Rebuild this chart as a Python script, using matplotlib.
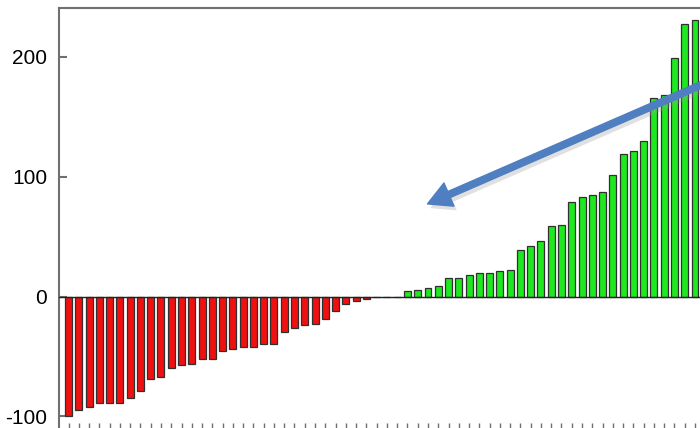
import matplotlib
matplotlib.use("Agg")
import matplotlib.pyplot as plt
from matplotlib.patches import FancyArrowPatch
import matplotlib.patheffects as pe
import numpy as np

# sorted change per item, left to right
values = [-100, -95, -92, -88.5, -88.5, -88.5, -85, -79, -68.5, -67,
          -59.5, -57.5, -56, -52.5, -52.3, -45.6, -44, -42.3, -41.7, -40,
          -39.7, -29.5, -26, -24, -23, -19, -12.4, -6.5, -3.5, -2.3,
          -0.5, 0, 0, 4.3, 5.4, 7.4, 8.5, 15.2, 15.7, 17.7,
          19.4, 19.7, 21.3, 21.9, 38.7, 42, 46.4, 59, 59.3, 79,
          83.3, 84.4, 86.9, 101, 118.6, 121.6, 129.5, 165.5, 168.5, 198.6,
          227, 230.5]
yticks = [-100, 0, 100, 200]
ytick_labels = ["-100", "0", "100", "200"]

# arrow from the upper right down into the middle of the chart
arrow_start = (64.5, 183.6)
arrow_end = (35.7, 76.3)

RED = "#f01010"
GREEN = "#1ee81e"
EDGE = "#303030"
SPINE = "#707070"

plt.rcParams['font.family'] = ['Liberation Sans', 'DejaVu Sans']

fig = plt.figure(figsize=(7, 4.28), dpi=100)
ax = fig.add_axes([0.0843, -0.0037, 0.92, 0.9843])

x = np.arange(1, len(values) + 1)
colors = [RED if v < 0 else GREEN for v in values]
ax.bar(x, values, width=0.68, color=colors, edgecolor=EDGE, linewidth=0.9, zorder=2)
ax.axhline(0, color="#222222", linewidth=1.0, zorder=3)

ax.set_xlim(0.07, 62.78)
ax.set_ylim(-111, 240.4)

ax.set_yticks(yticks)
ax.set_yticklabels(ytick_labels)
ax.set_xticks(x)
ax.set_xticklabels([])
ax.tick_params(axis='y', direction='in', length=6, width=1.5, color=SPINE,
               labelsize=15, pad=8.5)
ax.tick_params(axis='x', direction='in', length=5, width=1.0, color=SPINE)

for side in ['left', 'top', 'bottom']:
  ax.spines[side].set_color(SPINE)
  ax.spines[side].set_linewidth(1.5)
ax.spines['right'].set_visible(False)

arrow = FancyArrowPatch(arrow_start, arrow_end,
                        arrowstyle="simple,head_length=1.3,head_width=1.4,tail_width=0.36",
                        mutation_scale=13, color="#4f7fc0", zorder=5, clip_on=False,
                        path_effects=[pe.SimplePatchShadow(offset=(2, -3), shadow_rgbFace='#999999', alpha=0.3),
                                      pe.Normal()])
ax.add_patch(arrow)

fig.savefig("out.png", dpi=100)
